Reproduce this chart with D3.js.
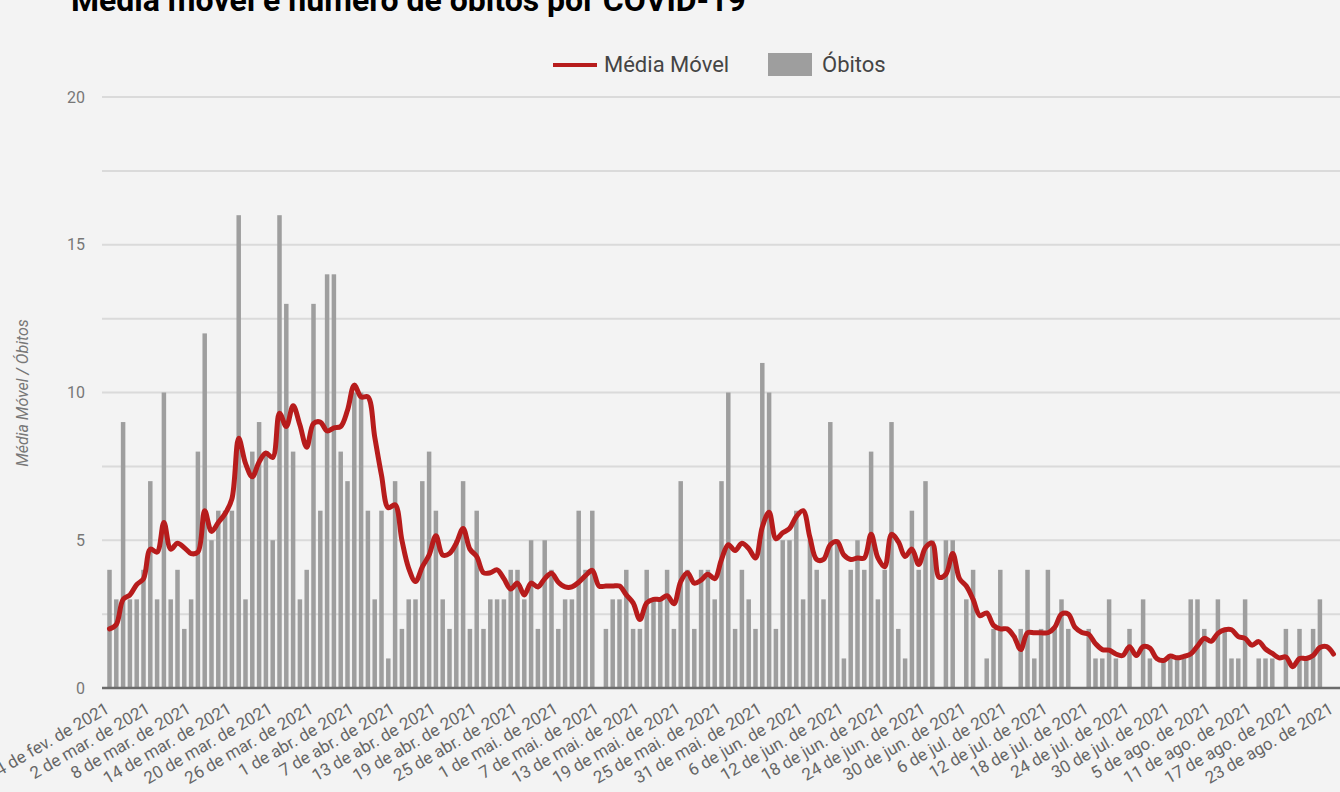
<!DOCTYPE html>
<html>
<head>
  <meta charset="utf-8">
  <style>
    body { margin: 0; background: #f3f3f3; overflow: hidden; }
    svg { display: block; font-family: Roboto, sans-serif; }
    .grid line { stroke: #dadada; stroke-width: 2; }
    .tick-label { fill: #666; font-size: 17px; }
    .y-label { fill: #777; font-size: 16px; }
  </style>
  <script src="https://d3js.org/d3.v7.min.js"></script>
</head>
<body>
  <div id="chart"></div>
  <script>
    // óbitos diários, 24 fev. a 23 ago. 2021
    var obitos = [
      4, 3, 9, 3, 3, 4, 7, 3, 10, 3, 4, 2, 3, 8, 12, 5, 6, 6, 6, 16,
      3, 8, 9, 8, 5, 16, 13, 8, 3, 4, 13, 6, 14, 14, 8, 7, 10, 10, 6, 3,
      6, 1, 7, 2, 3, 3, 7, 8, 6, 3, 2, 5, 7, 2, 6, 2, 3, 3, 3, 4,
      4, 3, 5, 2, 5, 4, 2, 3, 3, 6, 4, 6, 0, 2, 3, 3, 4, 2, 2, 4,
      3, 3, 4, 2, 7, 4, 2, 4, 4, 3, 7, 10, 2, 4, 3, 2, 11, 10, 2, 5,
      5, 6, 3, 5, 4, 3, 9, 5, 1, 4, 5, 4, 8, 3, 4, 9, 2, 1, 6, 4,
      7, 5, 0, 5, 5, 0, 3, 4, 0, 1, 2, 4, 0, 0, 2, 4, 1, 2, 4, 2,
      3, 2, 0, 0, 2, 1, 1, 3, 1, 0, 2, 0, 3, 1, 0, 1, 1, 1, 1, 3,
      3, 2, 0, 3, 2, 1, 1, 3, 0, 1, 1, 1, 0, 2, 0, 2, 1, 2, 3, 0,
      0
    ];

    // média móvel
    var mediaMovel = [
      2.0, 2.15, 3.0, 3.15, 3.5, 3.7, 4.7, 4.6, 5.6, 4.7, 4.9, 4.75, 4.55, 4.6, 6.0, 5.3, 5.6, 5.9, 6.4, 8.45,
      7.6, 7.15, 7.65, 7.95, 7.8, 9.3, 8.85, 9.55, 8.9, 8.15, 8.95, 9.0, 8.7, 8.8, 8.85, 9.4, 10.25, 9.85, 9.85, 8.5,
      7.2, 6.1, 6.2, 5.0, 4.05, 3.6, 4.1, 4.5, 5.15, 4.5, 4.55, 4.9, 5.4, 4.7, 4.45, 3.9, 3.9, 4.0, 3.7, 3.35,
      3.55, 3.15, 3.55, 3.42, 3.7, 3.88, 3.58, 3.42, 3.42, 3.58, 3.8, 3.98, 3.45, 3.45, 3.45, 3.45, 3.15, 2.88, 2.32, 2.88,
      3.0, 3.0, 3.12, 2.85, 3.6, 3.9, 3.55, 3.65, 3.85, 3.7, 4.35, 4.85, 4.65, 4.9, 4.72, 4.4, 5.45, 5.95, 5.05, 5.25,
      5.4, 5.8, 6.0, 5.1, 4.35, 4.35, 4.85, 4.95, 4.5, 4.35, 4.4, 4.4, 5.2, 4.4, 4.1, 5.2, 4.95, 4.45, 4.7, 4.18,
      4.75, 4.9, 3.75, 3.85, 4.55, 3.7, 3.45, 3.0, 2.45, 2.54, 2.12, 2.0, 2.0, 1.75, 1.3, 1.87, 1.87, 1.87, 1.87, 2.05,
      2.5, 2.5, 2.05, 1.88, 1.82, 1.5, 1.3, 1.28, 1.15, 1.1, 1.4, 1.1, 1.4, 1.35, 1.0, 0.93, 1.08, 1.02, 1.07, 1.15,
      1.42, 1.68, 1.58, 1.85, 1.97, 1.97, 1.74, 1.68, 1.45, 1.57, 1.32, 1.17, 1.02, 1.05, 0.72, 1.0, 1.0, 1.1, 1.37, 1.4,
      1.15
    ];

    var tickLabels = [
      "24 de fev. de 2021", "2 de mar. de 2021", "8 de mar. de 2021", "14 de mar. de 2021",
      "20 de mar. de 2021", "26 de mar. de 2021", "1 de abr. de 2021", "7 de abr. de 2021",
      "13 de abr. de 2021", "19 de abr. de 2021", "25 de abr. de 2021", "1 de mai. de 2021",
      "7 de mai. de 2021", "13 de mai. de 2021", "19 de mai. de 2021", "25 de mai. de 2021",
      "31 de mai. de 2021", "6 de jun. de 2021", "12 de jun. de 2021", "18 de jun. de 2021",
      "24 de jun. de 2021", "30 de jun. de 2021", "6 de jul. de 2021", "12 de jul. de 2021",
      "18 de jul. de 2021", "24 de jul. de 2021", "30 de jul. de 2021", "5 de ago. de 2021",
      "11 de ago. de 2021", "17 de ago. de 2021", "23 de ago. de 2021"
    ];
    var yTicks = [0, 5, 10, 15, 20];
    var yGrid = [0, 2.5, 5, 7.5, 10, 12.5, 15, 17.5, 20];

    var width = 1340, height = 792;
    var dias = d3.range(obitos.length);

    var svg = d3.select("#chart").append("svg")
      .attr("width", width)
      .attr("height", height);

    var x = d3.scaleBand()
      .domain(dias)
      .range([106.1, 106.1 + obitos.length * 6.8])
      .paddingInner(0.34)
      .paddingOuter(0.17);

    var y = d3.scaleLinear()
      .domain([0, 20])
      .range([688, 97]);

    // titulo (cortado no topo, como no original)
    svg.append("text")
      .attr("x", 71)
      .attr("y", 11)
      .attr("font-size", 32)
      .attr("font-weight", "bold")
      .attr("fill", "#000")
      .text("Média móvel e número de óbitos por COVID-19");

    // legenda
    var leg = svg.append("g");
    leg.append("line")
      .attr("x1", 553).attr("x2", 597)
      .attr("y1", 65).attr("y2", 65)
      .attr("stroke", "#b71c1c")
      .attr("stroke-width", 4);
    leg.append("text")
      .attr("x", 604).attr("y", 72)
      .attr("font-size", 22).attr("fill", "#444")
      .text("Média Móvel");
    leg.append("rect")
      .attr("x", 768).attr("y", 53)
      .attr("width", 44).attr("height", 23)
      .attr("fill", "#9e9e9e");
    leg.append("text")
      .attr("x", 822).attr("y", 72)
      .attr("font-size", 22).attr("fill", "#444")
      .text("Óbitos");

    // grade
    svg.append("g")
      .attr("class", "grid")
      .selectAll("line")
      .data(yGrid.slice(1))
      .enter().append("line")
      .attr("x1", 102).attr("x2", width)
      .attr("y1", function (d) { return y(d); })
      .attr("y2", function (d) { return y(d); });

    // eixo y
    var yAxis = svg.append("g")
      .attr("transform", "translate(102,0)")
      .call(d3.axisLeft(y).tickValues(yTicks).tickSize(0).tickPadding(17));
    yAxis.select(".domain").remove();
    yAxis.selectAll("text")
      .attr("class", "y-label")
      .style("font-family", "Roboto, sans-serif");

    svg.append("text")
      .attr("transform", "translate(28,393) rotate(-90)")
      .attr("text-anchor", "middle")
      .attr("font-size", 16)
      .attr("font-style", "italic")
      .attr("fill", "#777")
      .text("Média Móvel / Óbitos");

    // barras
    svg.append("g")
      .selectAll("rect")
      .data(dias)
      .enter().append("rect")
      .attr("x", function (d) { return x(d); })
      .attr("width", x.bandwidth())
      .attr("y", function (d) { return y(obitos[d]); })
      .attr("height", function (d) { return y(0) - y(obitos[d]); })
      .attr("fill", "#9e9e9e");

    // linha de base
    svg.append("line")
      .attr("x1", 102).attr("x2", width)
      .attr("y1", y(0)).attr("y2", y(0))
      .attr("stroke", "#6b6b6b")
      .attr("stroke-width", 2.5);

    // média móvel
    var line = d3.line()
      .x(function (d) { return x(d) + x.bandwidth() / 2; })
      .y(function (d) { return y(mediaMovel[d]); })
      .curve(d3.curveCatmullRom.alpha(0.5));

    svg.append("path")
      .datum(dias)
      .attr("d", line)
      .attr("fill", "none")
      .attr("stroke", "#b71c1c")
      .attr("stroke-width", 5)
      .attr("stroke-linejoin", "round")
      .attr("stroke-linecap", "round");

    // rotulos do eixo x, um a cada 6 dias
    svg.append("g")
      .selectAll("text")
      .data(tickLabels)
      .enter().append("text")
      .attr("class", "tick-label")
      .attr("text-anchor", "end")
      .attr("transform", function (d, i) {
        var cx = x(i * 6) + x.bandwidth() / 2;
        return "translate(" + (cx + 1) + ",712) rotate(-30)";
      })
      .text(function (d) { return d; });
  </script>
</body>
</html>
